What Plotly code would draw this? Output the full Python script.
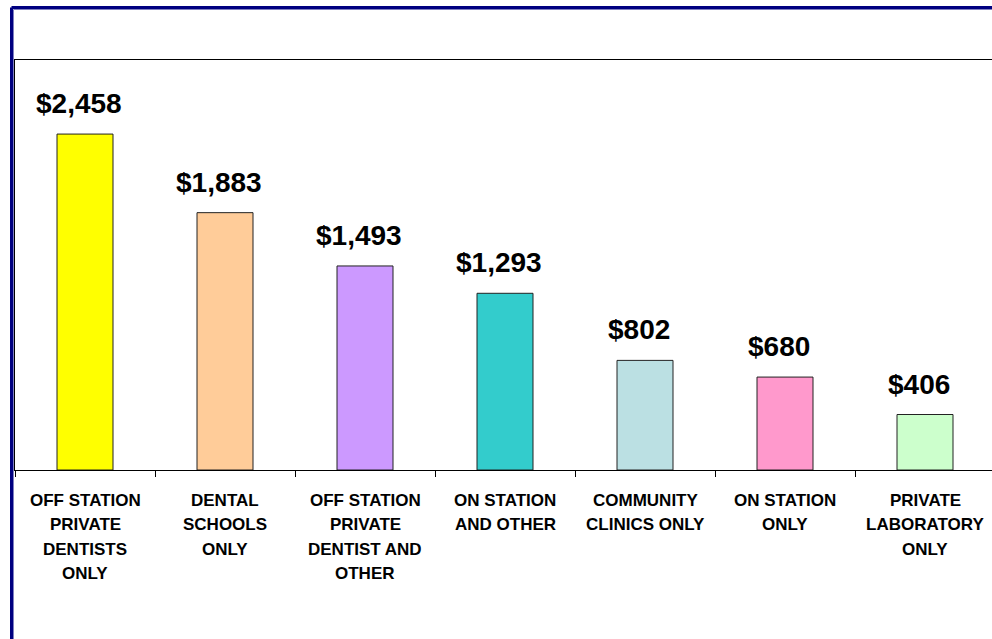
import plotly.graph_objs as go

# chart data
categories = [
    "OFF STATION<br>PRIVATE<br>DENTISTS<br>ONLY",
    "DENTAL<br>SCHOOLS<br>ONLY",
    "OFF STATION<br>PRIVATE<br>DENTIST AND<br>OTHER",
    "ON STATION<br>AND OTHER",
    "COMMUNITY<br>CLINICS ONLY",
    "ON STATION<br>ONLY",
    "PRIVATE<br>LABORATORY<br>ONLY",
]
values = [2458, 1883, 1493, 1293, 802, 680, 406]
bar_colors = ['#FFFF00', '#FFCC99', '#CC99FF', '#33CCCC', '#BBE0E3', '#FF99CC', '#CCFFCC']

FONT = 'Liberation Sans, Arial, sans-serif'

W, H = 992, 639
ML, MT, MB = 15, 60, 169
plot_w = W - ML
plot_h = H - MT - MB
cat_px = 140.0


def px_to_paper_x(px):
    return (px - ML) / plot_w


def px_to_paper_y(py):
    return (H - MB - py) / plot_h


trace = go.Bar(
    x = categories,
    y = values,
    width = 0.4,
    marker = {
        'color': bar_colors,
        'line': {'color': '#222222', 'width': 1}
    },
    hoverinfo = 'skip'
)

annotations = []
# value labels above the bars (Excel puts them a touch left of centre)
for c, v in zip(categories, values):
    annotations.append(dict(
        x = c, y = v, xref = 'x', yref = 'y',
        text = '<b>$' + format(v, ',') + '</b>',
        showarrow = False,
        yanchor = 'bottom',
        yshift = 13,
        xshift = -6,
        font = {'family': FONT, 'size': 28, 'color': '#000000'}
    ))

# category labels, one annotation per line to get Excel-like line spacing
for c in categories:
    for j, line in enumerate(c.split('<br>')):
        annotations.append(dict(
            x = c, y = 0, xref = 'x', yref = 'y',
            text = '<b>' + line + '</b>',
            showarrow = False,
            yanchor = 'top',
            yshift = -19 - 24.3 * j,
            font = {'family': FONT, 'size': 17, 'color': '#000000'}
        ))


def frame_lines(offset, color, width):
    # top and left side of the outer frame; the other sides run off the picture
    x = px_to_paper_x(offset)
    y = px_to_paper_y(offset - 4)
    return [
        {'type': 'line', 'xref': 'paper', 'yref': 'paper',
         'x0': x, 'x1': px_to_paper_x(1100), 'y0': y, 'y1': y,
         'line': {'color': color, 'width': width}, 'layer': 'above'},
        {'type': 'line', 'xref': 'paper', 'yref': 'paper',
         'x0': x, 'x1': x, 'y0': y, 'y1': px_to_paper_y(800),
         'line': {'color': color, 'width': width}, 'layer': 'above'},
    ]


shapes = frame_lines(11.5, '#000080', 3) + frame_lines(13.5, '#8080C0', 1)

layout = go.Layout(
    width = W,
    height = H,
    margin = {'l': ML, 'r': 0, 't': MT, 'b': MB, 'pad': 0},
    paper_bgcolor = '#FFFFFF',
    plot_bgcolor = '#FFFFFF',
    showlegend = False,
    font = {'family': FONT, 'color': '#000000'},
    xaxis = {
        'type': 'category',
        'range': [-0.5, -0.5 + plot_w / cat_px],
        'showticklabels': False,
        'ticks': 'outside',
        'tickson': 'boundaries',
        'ticklen': 6,
        'tickwidth': 1,
        'tickcolor': '#000',
        'showline': True,
        'linecolor': '#000',
        'linewidth': 1,
        'mirror': True,
        'showgrid': False,
        'zeroline': False,
        'fixedrange': True
    },
    yaxis = {
        'range': [0, 3000],
        'showticklabels': False,
        'ticks': '',
        'showline': True,
        'linecolor': '#000',
        'linewidth': 1,
        'showgrid': False,
        'zeroline': False,
        'fixedrange': True
    },
    annotations = annotations,
    shapes = shapes
)

fig = go.Figure(data = [trace], layout = layout)
fig.write_html(
    "out.html",
    config = {'displayModeBar': False},
    post_script = "document.body.style.margin='0';document.body.style.overflow='hidden';"
)
